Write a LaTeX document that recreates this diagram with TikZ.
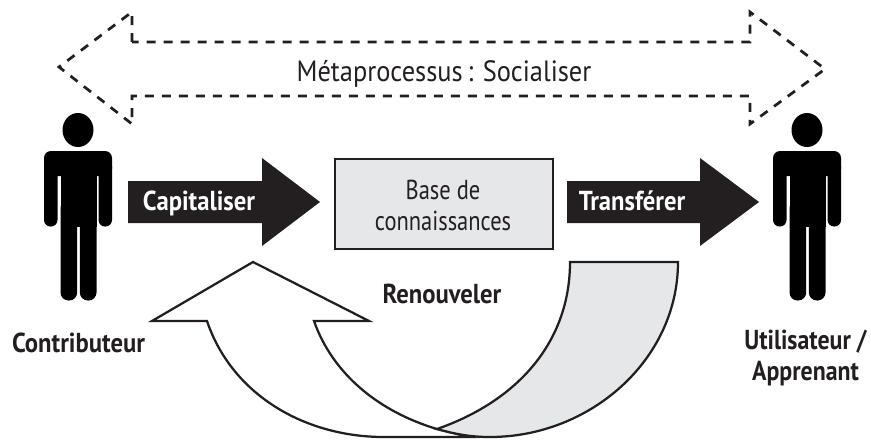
\documentclass[tikz,border=0pt]{standalone}
\usepackage{fontspec}
\setmainfont[FakeStretch=.9]{PT Sans}
\newfontfamily\boxfont[FakeStretch=.82]{PT Sans}
\newfontfamily\userfont[FakeStretch=.87]{PT Sans}
\usepackage{xcolor}
\usetikzlibrary{positioning}
\definecolor{boxgray}{HTML}{E6E7E8}
\definecolor{arrowblack}{HTML}{231F20}
\tikzset{
	label/.style={font=\fontsize{15.6}{17.6}\selectfont, align=center, text=arrowblack, inner sep=0pt},
	boldlabel/.style={label, font=\fontsize{15.6}{17.6}\selectfont\bfseries},
	blackarrow/.style={fill=arrowblack},
	outline/.style={draw=arrowblack, line width=.045cm, line join=miter}
}
\begin{document}
\begin{tikzpicture}[x=.02cm,y=-.02cm]
	\useasboundingbox (0,0) rectangle (871,439);

	% Metaprocessus arrow
	\draw[arrowblack, line width=.055cm, dash pattern=on .18cm off .16cm]
		(132,42) -- (132,12) -- (59,67) -- (132,124) -- (132,96) -- (750,96)
		-- (750,124) -- (825,69) -- (750,12) -- (750,42) -- cycle;
	\node[label, font=\fontsize{16.7}{18}\selectfont, anchor=base] (meta) at (444,82) {Métaprocessus\,: Socialiser};

	% Persons
	\foreach \dx in {0,729} {
		\fill[black] (78+\dx,130) ellipse (15.5 and 17);
		\fill[black, rounded corners=.14cm] (44+\dx,151) rectangle (112+\dx,176);
		\fill[black, rounded corners=.13cm] (44+\dx,160) rectangle (57.5+\dx,226.5);
		\fill[black, rounded corners=.13cm] (98.5+\dx,160) rectangle (112+\dx,226.5);
		\fill[black] (60.5+\dx,151) rectangle (96.5+\dx,227);
		\fill[black, rounded corners=.16cm] (60.5+\dx,200) rectangle (77.2+\dx,300.5);
		\fill[black, rounded corners=.16cm] (79.8+\dx,200) rectangle (96.5+\dx,300.5);
	}
	\node[boldlabel, anchor=base] (contributeur) at (78.5,352) {Contributeur};
	\node[boldlabel, font=\userfont\fontsize{15.6}{17.6}\selectfont\bfseries, anchor=center] (utilisateur) at (805.5,358) {Utilisateur /\\Apprenant};

	% Capitaliser
	\fill[blackarrow] (128,181) -- (262,181) -- (262,158) -- (320,202)
		-- (262,246) -- (262,223) -- (128,223) -- cycle;
	\node[boldlabel, text=white, anchor=base] (capitaliser) at (199,210) {Capitaliser};

	% Base de connaissances
	\node[outline, fill=boxgray, minimum width=.02cm*218, minimum height=.02cm*90] (base) at (443.7,203.7) {};
	\node[label, font=\boxfont\fontsize{15.6}{17.6}\selectfont, anchor=center] (basetext) at (443,205) {Base de\\connaissances};

	% Transferer
	\fill[blackarrow] (567,181) -- (700,181) -- (700,158) -- (759,202)
		-- (700,246) -- (700,223) -- (567,223) -- cycle;
	\node[boldlabel, text=white, anchor=base] (transferer) at (632,210) {Transférer};

	% Renouveler
	\filldraw[outline, fill=white] (437,429) .. controls (380,412) and (333,375) .. (314,321)
		-- (369,321) -- (253,262) -- (152,321) -- (207,321)
		.. controls (232,395) and (305,437) .. (384,437) -- (470,437) -- cycle;
	\filldraw[outline, fill=boxgray] (570,262) -- (678,262)
		.. controls (678,360) and (590,437) .. (490,437) .. controls (470,437) and (455,434) .. (437,429)
		.. controls (520,400) and (570,340) .. (570,262) -- cycle;
	\node[boldlabel, anchor=base] (renouveler) at (442,303) {Renouveler};
\end{tikzpicture}
\end{document}
